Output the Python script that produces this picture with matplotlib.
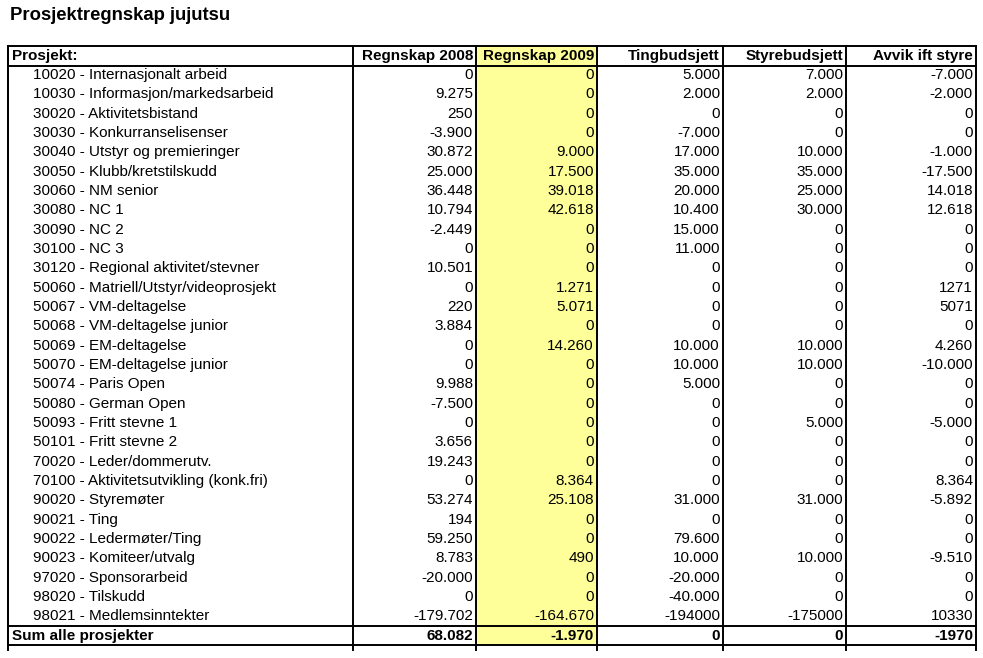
import matplotlib
matplotlib.use("Agg")
import matplotlib.pyplot as plt
from matplotlib.patches import Rectangle

plt.rcParams["font.family"] = ["Liberation Sans", "DejaVu Sans"]

# table contents
title = "Prosjektregnskap jujutsu"
headers = ["Prosjekt:", "Regnskap 2008", "Regnskap 2009", "Tingbudsjett",
           "Styrebudsjett", "Avvik ift styre"]
projects = [
    "10020 - Internasjonalt arbeid", "10030 - Informasjon/markedsarbeid",
    "30020 - Aktivitetsbistand", "30030 - Konkurranselisenser",
    "30040 - Utstyr og premieringer", "30050 - Klubb/kretstilskudd",
    "30060 - NM senior", "30080 - NC 1", "30090 - NC 2", "30100 - NC 3",
    "30120 - Regional aktivitet/stevner", "50060 - Matriell/Utstyr/videoprosjekt",
    "50067 - VM-deltagelse", "50068 - VM-deltagelse junior",
    "50069 - EM-deltagelse", "50070 - EM-deltagelse junior",
    "50074 - Paris Open", "50080 - German Open", "50093 - Fritt stevne 1",
    "50101 - Fritt stevne 2", "70020 - Leder/dommerutv.",
    "70100 - Aktivitetsutvikling (konk.fri)", "90020 - Styremøter",
    "90021 - Ting", "90022 - Ledermøter/Ting", "90023 - Komiteer/utvalg",
    "97020 - Sponsorarbeid", "98020 - Tilskudd", "98021 - Medlemsinntekter",
]
regnskap_2008 = ["0", "9.275", "250", "-3.900", "30.872", "25.000", "36.448",
                 "10.794", "-2.449", "0", "10.501", "0", "220", "3.884", "0",
                 "0", "9.988", "-7.500", "0", "3.656", "19.243", "0", "53.274",
                 "194", "59.250", "8.783", "-20.000", "0", "-179.702"]
regnskap_2009 = ["0", "0", "0", "0", "9.000", "17.500", "39.018", "42.618",
                 "0", "0", "0", "1.271", "5.071", "0", "14.260", "0", "0", "0",
                 "0", "0", "0", "8.364", "25.108", "0", "0", "490", "0", "0",
                 "-164.670"]
tingbudsjett = ["5.000", "2.000", "0", "-7.000", "17.000", "35.000", "20.000",
                "10.400", "15.000", "11.000", "0", "0", "0", "0", "10.000",
                "10.000", "5.000", "0", "0", "0", "0", "0", "31.000", "0",
                "79.600", "10.000", "-20.000", "-40.000", "-194000"]
styrebudsjett = ["7.000", "2.000", "0", "0", "10.000", "35.000", "25.000",
                 "30.000", "0", "0", "0", "0", "0", "0", "10.000", "10.000",
                 "0", "0", "5.000", "0", "0", "0", "31.000", "0", "0",
                 "10.000", "0", "0", "-175000"]
avvik = ["-7.000", "-2.000", "0", "0", "-1.000", "-17.500", "14.018", "12.618",
         "0", "0", "0", "1271", "5071", "0", "4.260", "-10.000", "0", "0",
         "-5.000", "0", "0", "8.364", "-5.892", "0", "0", "-9.510", "0", "0",
         "10330"]
sum_label = "Sum alle prosjekter"
sums = ["68.082", "-1.970", "0", "0", "-1970"]

# layout in pixels
W, H = 983, 658
col_edges = [8, 353, 476, 597, 723, 846, 976]
top = 46
header_h = 19.5
row_h = 19.33
fs = 11

fig = plt.figure(figsize=(W / 100, H / 100), dpi=100)
ax = fig.add_axes([0, 0, 1, 1])
ax.set_xlim(0, W)
ax.set_ylim(H, 0)
ax.axis("off")

ax.text(10, 16, title, fontsize=13.3, fontweight="bold", va="center", ha="left")

n = len(projects)
header_bottom = top + header_h
sum_top = header_bottom + n * row_h
bottom = sum_top + row_h

# yellow 2009 column
ax.add_patch(Rectangle((col_edges[2], top), col_edges[3] - col_edges[2],
                       bottom - top, facecolor="#ffff99", edgecolor="none"))

# lines
lw = 1.4
for y in [top, header_bottom, sum_top, bottom]:
    ax.plot([col_edges[0], col_edges[-1]], [y, y], color="black", lw=lw)
for x in col_edges:
    ax.plot([x, x], [top, bottom + 5], color="black", lw=lw)
ax.plot([col_edges[0], col_edges[0]], [top, bottom], color="black", lw=lw)

pad = 3
columns = [regnskap_2008, regnskap_2009, tingbudsjett, styrebudsjett, avvik]

# header
yc = top + header_h / 2
ax.text(col_edges[0] + 4, yc, headers[0], fontsize=fs, fontweight="bold",
        va="center", ha="left")
for j, h in enumerate(headers[1:]):
    ax.text(col_edges[j + 2] - pad, yc, h, fontsize=fs, fontweight="bold",
            va="center", ha="right")

# rows
for i, name in enumerate(projects):
    yc = header_bottom + (i + 0.5) * row_h
    ax.text(33, yc, name, fontsize=fs, va="center", ha="left")
    for j, col in enumerate(columns):
        ax.text(col_edges[j + 2] - pad, yc, col[i], fontsize=fs,
                va="center", ha="right")

# sum row
yc = sum_top + row_h / 2
ax.text(col_edges[0] + 4, yc, sum_label, fontsize=fs, fontweight="bold",
        va="center", ha="left")
for j, s in enumerate(sums):
    ax.text(col_edges[j + 2] - pad, yc, s, fontsize=fs, fontweight="bold",
            va="center", ha="right")

fig.savefig("out.png", dpi=100)
